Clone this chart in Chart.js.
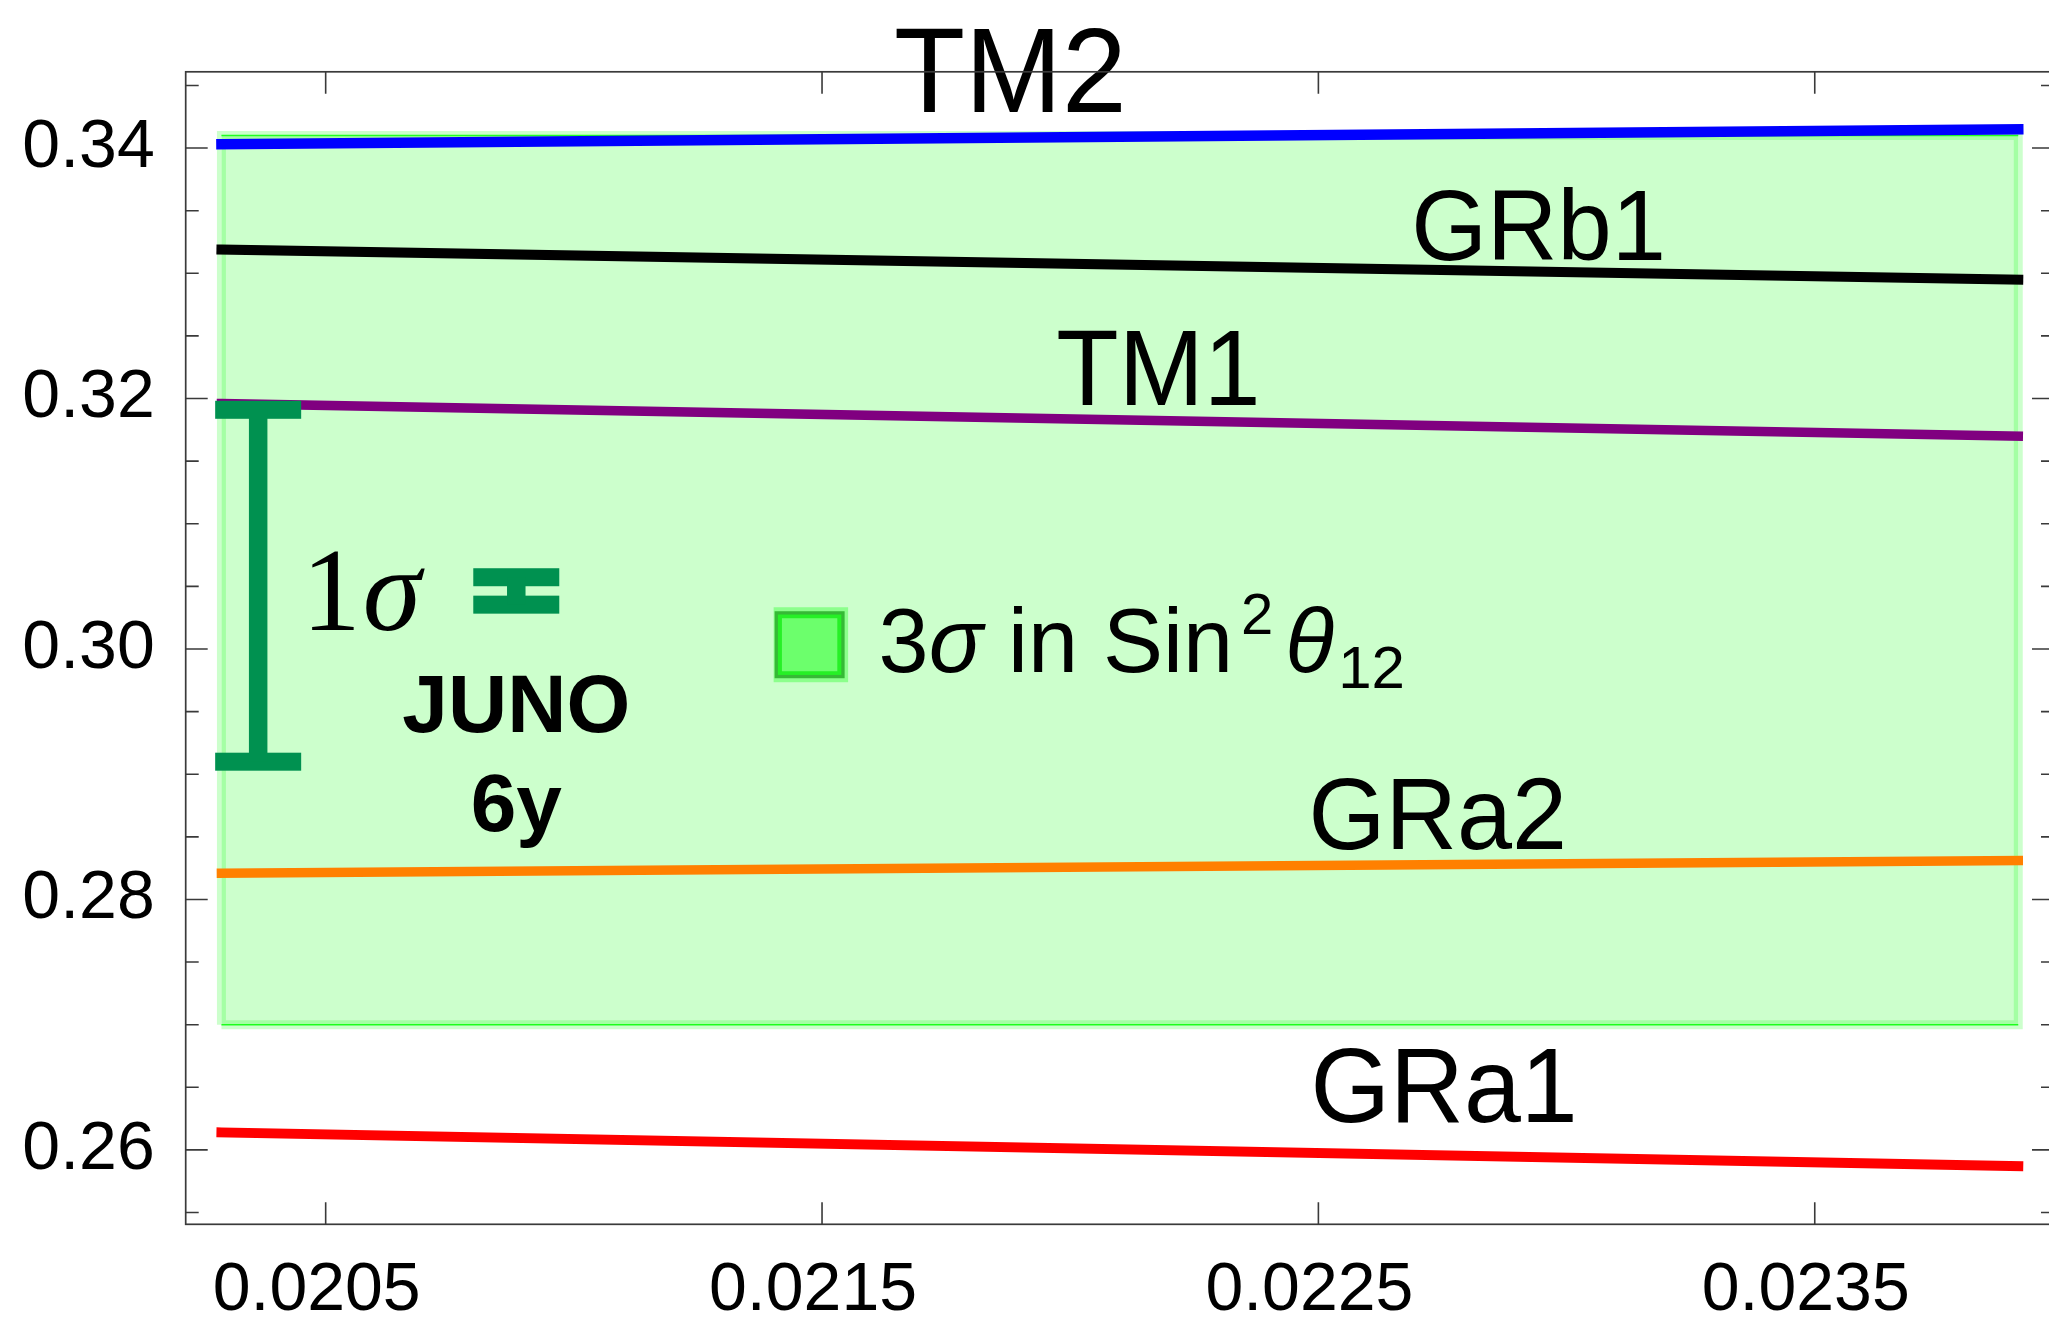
<!DOCTYPE html>
<html>
<head>
<meta charset="utf-8">
<script src="https://cdn.jsdelivr.net/npm/chart.js@4.4.1/dist/chart.umd.min.js"></script>
<style>
  html, body { margin: 0; padding: 0; background: #fff; overflow: hidden; }
  #wrap { width: 2062px; height: 1323px; }
</style>
</head>
<body>
<div id="wrap"><canvas id="c" width="2062" height="1323"></canvas></div>
<script>
// sin²θ12 predicted by each mixing scheme as a function of sin²θ13
const xEnds = [0.02029, 0.02391];
const tm2   = [0.3403, 0.3415];
const grb1  = [0.3319, 0.3295];
const tm1   = [0.3196, 0.3170];
const gra2  = [0.2821, 0.2831];
const gra1  = [0.2614, 0.2587];

// 3σ allowed region of sin²θ12 (lower, upper)
const band3Sigma = [0.270, 0.341];

// 1σ intervals: present global fit and JUNO after 6 years (lower, upper)
const currentBar = [0.2910, 0.3191];
const junoBar    = [0.30354, 0.30573];
const barX       = [0.020364, 0.020884];

// axis ticks
const xTicks   = [0.0205, 0.0215, 0.0225, 0.0235];
const yTicks   = [0.26, 0.28, 0.30, 0.32, 0.34];
const yMinor   = [0.255, 0.265, 0.27, 0.275, 0.285, 0.29, 0.295, 0.305, 0.31, 0.315, 0.325, 0.33, 0.335, 0.345];

const seriesNames = ['TM2', 'GRb1', 'TM1', 'GRa2', 'GRa1'];
const seriesData  = [tm2, grb1, tm1, gra2, gra1];
const seriesStyle = [
  { color: '#0000ff', width: 10.5 },
  { color: '#000000', width: 10 },
  { color: '#800080', width: 9.5 },
  { color: '#ff8000', width: 9.5 },
  { color: '#ff0000', width: 10 }
];
// where each curve name sits (data coordinates of the text's left end / baseline)
const nameSpots = [
  { x: 0.021645, y: 0.34290, size: 120, sx: 0.97 },
  { x: 0.022687, y: 0.33103, size: 100, sx: 0.975 },
  { x: 0.021972, y: 0.31948, size: 108, sx: 0.945 },
  { x: 0.022480, y: 0.28402, size: 102, sx: 0.97 },
  { x: 0.022484, y: 0.26222, size: 106, sx: 0.965 }
];

const pts = ys => xEnds.map((x, i) => ({ x: x, y: ys[i] }));
const flat = v => xEnds.map(x => ({ x: x, y: v }));

const datasets = [];
seriesData.forEach((ys, i) => {
  datasets.push({
    label: seriesNames[i],
    data: pts(ys),
    borderColor: seriesStyle[i].color,
    borderWidth: seriesStyle[i].width,
    borderCapStyle: 'square',
    fill: false,
    order: 1
  });
});
// band: upper edge filled down to lower edge
datasets.push({
  label: 'band upper',
  data: flat(band3Sigma[1]),
  borderColor: '#22ff22',
  borderWidth: 1.5,
  fill: '+1',
  backgroundColor: 'rgba(0,255,0,0.2)',
  order: 5
});
datasets.push({
  label: 'band lower',
  data: flat(band3Sigma[0]),
  borderColor: '#22ff22',
  borderWidth: 1.5,
  fill: false,
  order: 5
});
// soft outline around the band
datasets.push({
  label: 'band outline',
  data: [
    { x: xEnds[0], y: band3Sigma[0] },
    { x: xEnds[0], y: band3Sigma[1] },
    { x: xEnds[1], y: band3Sigma[1] },
    { x: xEnds[1], y: band3Sigma[0] },
    { x: xEnds[0], y: band3Sigma[0] }
  ],
  borderColor: 'rgba(0,255,0,0.2)',
  borderWidth: 9,
  borderJoinStyle: 'miter',
  fill: false,
  order: 10
});

const FRAME = '#3a3a3a';

function textScaled(ctx, str, px, py, font, sx) {
  ctx.save();
  ctx.font = font;
  ctx.translate(px, py);
  ctx.scale(sx, 1);
  ctx.fillText(str, 0, 0);
  ctx.restore();
}

function errorBar(ctx, cx, yLo, yHi) {
  const capW = 86, capH = 18, stem = 18.5;
  ctx.fillStyle = '#009150';
  ctx.fillRect(cx - capW / 2, yHi - capH / 2, capW, capH);
  ctx.fillRect(cx - capW / 2, yLo - capH / 2, capW, capH);
  ctx.fillRect(cx - stem / 2, yHi, stem, yLo - yHi);
}

const decor = {
  id: 'decor',
  afterDatasetsDraw(chart) {
    const { ctx } = chart;
    const xs = chart.scales.x, ys = chart.scales.y;
    ctx.save();
    ctx.textBaseline = 'alphabetic';
    ctx.textAlign = 'left';

    // 1σ bars
    errorBar(ctx, xs.getPixelForValue(barX[0]), ys.getPixelForValue(currentBar[0]), ys.getPixelForValue(currentBar[1]));
    errorBar(ctx, xs.getPixelForValue(barX[1]), ys.getPixelForValue(junoBar[0]), ys.getPixelForValue(junoBar[1]));

    // curve names
    ctx.fillStyle = '#000';
    seriesNames.forEach((n, i) => {
      const s = nameSpots[i];
      textScaled(ctx, n, xs.getPixelForValue(s.x), ys.getPixelForValue(s.y), s.size + 'px "Liberation Sans"', s.sx);
    });

    // "1σ" next to the bar
    const px = xs.getPixelForValue(0.020452), py = ys.getPixelForValue(0.30155);
    ctx.font = '118px "Liberation Serif"';
    ctx.fillText('1', px, py);
    const w1 = ctx.measureText('1').width;
    ctx.font = 'italic 118px "Liberation Serif"';
    ctx.fillText('σ', px + w1 + 2, py);

    // JUNO 6y
    ctx.textAlign = 'center';
    ctx.font = 'bold 82px "Liberation Sans"';
    const jx = xs.getPixelForValue(barX[1]);
    ctx.fillText('JUNO', jx, ys.getPixelForValue(0.29337));
    ctx.fillText('6y', jx, ys.getPixelForValue(0.28548));

    // legend swatch for the 3σ band
    const lx = xs.getPixelForValue(0.021477), ly = ys.getPixelForValue(0.30034);
    ctx.fillStyle = '#8cff8c';
    ctx.fillRect(lx - 37, ly - 37.5, 74.5, 75);
    ctx.fillStyle = '#36b936';
    ctx.fillRect(lx - 36, ly - 33.5, 70, 67);
    ctx.fillStyle = '#26f026';
    ctx.fillRect(lx - 32.7, ly - 30.2, 63.4, 60.4);
    ctx.fillStyle = '#6cff6c';
    ctx.fillRect(lx - 28.7, ly - 26.5, 55.4, 53);

    // legend text: 3σ in Sin²θ12
    ctx.textAlign = 'left';
    ctx.fillStyle = '#000';
    let tx = xs.getPixelForValue(0.021614);
    const ty = ys.getPixelForValue(0.29817);
    const seg = (str, font, dy, gapAfter) => {
      ctx.font = font;
      ctx.fillText(str, tx, ty + dy);
      tx += ctx.measureText(str).width + (gapAfter || 0);
    };
    seg('3', '90px "Liberation Sans"', 0);
    seg('σ', 'italic 90px "Liberation Sans"', 0);
    seg(' in Sin', '90px "Liberation Sans"', 0, 8);
    seg('2', '58px "Liberation Sans"', -38, 12);
    seg('θ', 'italic 90px "Liberation Sans"', 0, 4);
    seg('12', '60px "Liberation Sans"', 16);
    ctx.restore();
  },
  afterDraw(chart) {
    const { ctx, chartArea: a } = chart;
    const xs = chart.scales.x, ys = chart.scales.y;
    ctx.save();
    ctx.strokeStyle = FRAME;
    ctx.lineWidth = 1.7;
    ctx.strokeRect(a.left, a.top, a.right - a.left, a.bottom - a.top);
    ctx.lineWidth = 1.6;
    ctx.beginPath();
    xTicks.forEach(v => {
      const p = xs.getPixelForValue(v);
      ctx.moveTo(p, a.bottom); ctx.lineTo(p, a.bottom - 22);
      ctx.moveTo(p, a.top);    ctx.lineTo(p, a.top + 22);
    });
    yTicks.concat(yMinor).forEach(v => {
      const p = ys.getPixelForValue(v);
      const len = yTicks.includes(v) ? 22 : 13;
      ctx.moveTo(a.left, p);  ctx.lineTo(a.left + len, p);
      ctx.moveTo(a.right, p); ctx.lineTo(a.right - len, p);
    });
    ctx.stroke();
    ctx.restore();
  }
};

new Chart(document.getElementById('c'), {
  type: 'line',
  data: { datasets: datasets },
  options: {
    responsive: false,
    animation: false,
    devicePixelRatio: 1,
    layout: { padding: { top: 69.3, right: 8, left: 0, bottom: 0 } },
    plugins: { legend: { display: false }, tooltip: { enabled: false } },
    elements: { point: { radius: 0 }, line: { tension: 0 } },
    scales: {
      x: {
        type: 'linear',
        min: 0.020218,
        max: 0.023982,
        grid: { display: false, drawTicks: false },
        border: { display: false },
        afterBuildTicks: s => { s.ticks = xTicks.map(v => ({ value: v })); },
        afterFit: s => { s.height = 98.7; },
        ticks: {
          font: { family: 'Liberation Sans', size: 68 },
          color: '#000',
          padding: 26.5,
          labelOffset: -9,
          maxRotation: 0,
          autoSkip: false,
          callback: v => v.toFixed(4)
        }
      },
      y: {
        type: 'linear',
        min: 0.25406,
        max: 0.34609,
        grid: { display: false, drawTicks: false },
        border: { display: false },
        afterBuildTicks: s => { s.ticks = yTicks.map(v => ({ value: v })); },
        afterFit: s => { s.width = 185.7; },
        ticks: {
          font: { family: 'Liberation Sans', size: 68 },
          color: '#000',
          padding: 31,
          autoSkip: false,
          callback: v => v.toFixed(2)
        }
      }
    }
  },
  plugins: [decor]
});
</script>
</body>
</html>
